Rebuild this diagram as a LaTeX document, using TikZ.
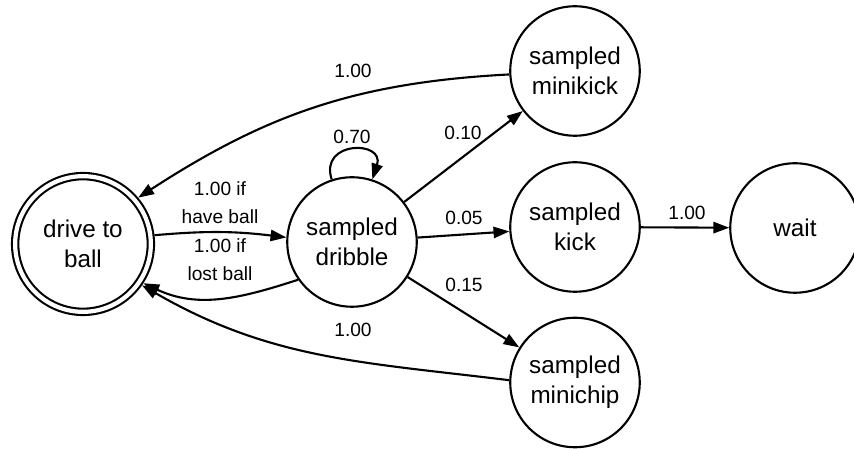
\documentclass[tikz,border=0pt]{standalone}
\usepackage{fontspec}
\setmainfont{Liberation Sans}
\usetikzlibrary{arrows.meta}

\begin{document}
\begin{tikzpicture}[
  state circle/.style={circle, draw, line width=1.2pt, minimum size=2.59cm, inner sep=0pt, align=center, font=\fontsize{13.8}{17}\selectfont},
  start circle/.style={state circle, double, double distance=2.4pt, minimum size=2.714cm, outer sep=2.4pt},
  transition/.style={line width=1.2pt, -{Triangle[length=9pt, width=6.4pt]}},
  prob label/.style={font=\fontsize{10.9}{15.8}\selectfont, align=center, inner sep=0pt}
]
  % Fix the frame to the size of the original drawing
  \useasboundingbox (0,0) rectangle (17.08,8.98);

  % States of the behaviour
  \node[start circle] (drive) at (1.66,4.10) {drive to\\ball};
  \node[state circle] (dribble) at (7.04,4.14) {sampled\\dribble};
  \node[state circle] (minikick) at (11.50,7.56) {sampled\\minikick};
  \node[state circle] (kick) at (11.50,4.44) {sampled\\kick};
  \node[state circle] (minichip) at (11.50,1.33) {sampled\\minichip};
  \node[state circle] (wait) at (15.90,4.42) {wait};

  % Transitions between drive and dribble
  \draw[transition] (drive.7) to[bend left=6] (dribble.176);
  \draw[transition] (dribble.215) to[out=198, in=-25] (drive.-33);
  \draw[transition] (dribble.108) to[out=108, in=72, looseness=2.6] (dribble.72);

  % Transitions out of dribble
  \draw[transition] (dribble) -- (minikick);
  \draw[transition] (dribble) -- (kick);
  \draw[transition] (dribble) -- (minichip);
  \draw[transition] (kick) -- (wait);

  % Kicks that fall back to driving
  \draw[transition] (minikick.183) to[out=183, in=33] (drive.40);
  \draw[transition] (minichip.178) to[out=173, in=-30] (drive.-35);

  % Probabilities
  \node[prob label] (p-have) at (4.40,4.93) {1.00 if\\have ball};
  \node[prob label] (p-lost) at (4.40,3.78) {1.00 if\\lost ball};
  \node[prob label] (p-stay) at (7.04,6.24) {0.70};
  \node[prob label] (p-minikick) at (9.26,6.32) {0.10};
  \node[prob label] (p-kick) at (9.28,4.62) {0.05};
  \node[prob label] (p-minichip) at (9.28,3.28) {0.15};
  \node[prob label] (p-wait) at (13.74,4.72) {1.00};
  \node[prob label] (p-back-top) at (7.06,7.56) {1.00};
  \node[prob label] (p-back-bot) at (7.06,2.38) {1.00};

\end{tikzpicture}
\end{document}
